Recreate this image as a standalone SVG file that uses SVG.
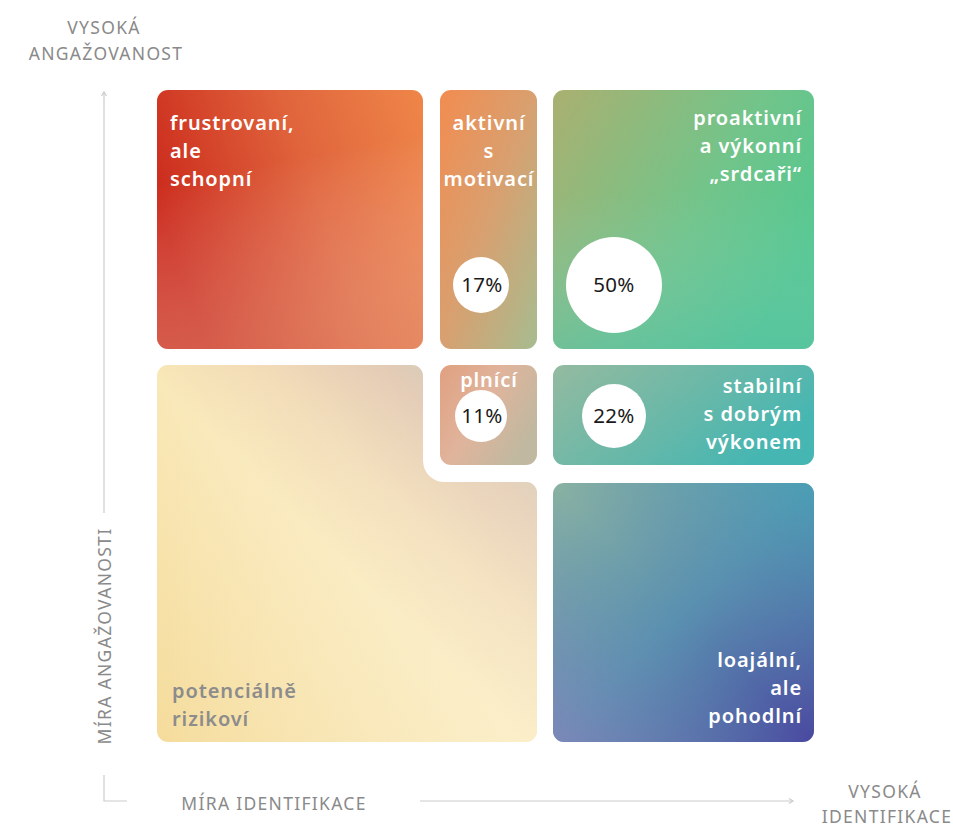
<svg xmlns="http://www.w3.org/2000/svg" width="953" height="827" viewBox="0 0 953 827">
<defs>
<style>
.lbl{font-family:"Noto Sans","Open Sans",sans-serif;font-size:20px;font-weight:600;fill:#ffffff;letter-spacing:0.9px}
.lblg{font-family:"Noto Sans","Open Sans",sans-serif;font-size:20px;font-weight:600;fill:#8c8c8c;letter-spacing:0.9px}
.pct{font-family:"Noto Sans","Open Sans",sans-serif;font-size:20.5px;fill:#1a1a1a;letter-spacing:0.3px}
.ax{font-family:"Noto Sans","Open Sans",sans-serif;font-size:17.5px;fill:#8a8a8a;letter-spacing:1.3px}
.axl{fill:none;stroke:#cccccc;stroke-width:1.2}
</style>
<linearGradient id="gFr" x1="0" y1="0.45" x2="1" y2="0.1"><stop offset="0" stop-color="#cb2a1c"/><stop offset="0.55" stop-color="#e0643c"/><stop offset="1" stop-color="#ee8448"/></linearGradient>
<linearGradient id="gFrO" x1="0" y1="0" x2="0.2" y2="1"><stop offset="0.35" stop-color="#ffffff" stop-opacity="0"/><stop offset="1" stop-color="#e8b8a0" stop-opacity="0.35"/></linearGradient>
<linearGradient id="gAk" x1="0" y1="0" x2="1" y2="1"><stop offset="0" stop-color="#f28c50"/><stop offset="0.5" stop-color="#d8a070"/><stop offset="1" stop-color="#a6bc90"/></linearGradient>
<linearGradient id="gPr" x1="0" y1="0" x2="1" y2="0.6"><stop offset="0" stop-color="#aab070"/><stop offset="0.6" stop-color="#72c48a"/><stop offset="1" stop-color="#52c890"/></linearGradient>
<linearGradient id="gPrO" x1="0" y1="0" x2="0" y2="1"><stop offset="0.4" stop-color="#9ed0c0" stop-opacity="0"/><stop offset="1" stop-color="#5cc0b0" stop-opacity="0.45"/></linearGradient>
<linearGradient id="gPl" x1="0" y1="0" x2="1" y2="0.6"><stop offset="0" stop-color="#e0a080"/><stop offset="0.5" stop-color="#e0b49c"/><stop offset="1" stop-color="#c0b8a0"/></linearGradient>
<linearGradient id="gSt" x1="0" y1="0" x2="1" y2="0.5"><stop offset="0" stop-color="#94baa0"/><stop offset="0.55" stop-color="#6ab8a8"/><stop offset="1" stop-color="#46b6b2"/></linearGradient>
<linearGradient id="gLo" x1="0" y1="0" x2="1" y2="1"><stop offset="0" stop-color="#8ab2a2"/><stop offset="0.5" stop-color="#5a90b0"/><stop offset="1" stop-color="#4a48a0"/></linearGradient>
<linearGradient id="gLoO" x1="1" y1="0" x2="0" y2="1"><stop offset="0" stop-color="#40a8b8" stop-opacity="0.6"/><stop offset="0.5" stop-color="#6090b0" stop-opacity="0"/><stop offset="1" stop-color="#8a84bc" stop-opacity="0.7"/></linearGradient>
<linearGradient id="gPo" x1="0" y1="1" x2="1" y2="0"><stop offset="0" stop-color="#f5dc9c"/><stop offset="0.48" stop-color="#f9e8b8"/><stop offset="0.64" stop-color="#f0d8b0"/><stop offset="0.8" stop-color="#dcbea6"/><stop offset="1" stop-color="#a2b6a8"/></linearGradient>
<linearGradient id="gPoO" x1="0" y1="0" x2="1" y2="0"><stop offset="0" stop-color="#ffffff" stop-opacity="0"/><stop offset="1" stop-color="#fffbe8" stop-opacity="0.35"/></linearGradient>
</defs>
<rect width="953" height="827" fill="#ffffff"/>

<g id="axes">
<text class="ax" x="104" y="34" text-anchor="middle">VYSOKÁ</text>
<text class="ax" x="106" y="60" text-anchor="middle">ANGAŽOVANOST</text>
<text class="ax" x="885" y="798" text-anchor="middle">VYSOKÁ</text>
<text class="ax" x="887" y="823" text-anchor="middle">IDENTIFIKACE</text>
<text class="ax" x="274" y="810" text-anchor="middle">MÍRA IDENTIFIKACE</text>
<text class="ax" transform="translate(111,636) rotate(-90)" text-anchor="middle">MÍRA ANGAŽOVANOSTI</text>
</g>

<g id="connectors">
<path class="axl" d="M104 92 V513"/>
<path class="axl" d="M101.5 96 L104 92 L106.5 96"/>
<path class="axl" d="M104 775 V801 H127"/>
<path class="axl" d="M420 801 H793"/>
<path class="axl" d="M789 798.5 L793 801 L789 803.5"/>
</g>

<g id="frustrovani">
<rect x="157" y="90" width="266" height="259" rx="11" fill="url(#gFr)"/>
<rect x="157" y="90" width="266" height="259" rx="11" fill="url(#gFrO)"/>
<text class="lbl" x="170" y="130">frustrovaní,</text>
<text class="lbl" x="170" y="158">ale</text>
<text class="lbl" x="170" y="186">schopní</text>
</g>

<g id="aktivni">
<rect x="440" y="90" width="97" height="259" rx="11" fill="url(#gAk)"/>
<text class="lbl" x="489" y="130" text-anchor="middle">aktivní</text>
<text class="lbl" x="489" y="158" text-anchor="middle">s</text>
<text class="lbl" x="489" y="186" text-anchor="middle">motivací</text>
<circle cx="481" cy="285" r="28" fill="#ffffff"/>
<text class="pct" x="482" y="292" text-anchor="middle">17%</text>
</g>

<g id="proaktivni">
<rect x="553" y="90" width="261" height="259" rx="11" fill="url(#gPr)"/>
<rect x="553" y="90" width="261" height="259" rx="11" fill="url(#gPrO)"/>
<text class="lbl" x="802" y="125" text-anchor="end">proaktivní</text>
<text class="lbl" x="802" y="153" text-anchor="end">a výkonní</text>
<text class="lbl" x="802" y="181" text-anchor="end">„srdcaři“</text>
<circle cx="614" cy="285" r="48" fill="#ffffff"/>
<text class="pct" x="614" y="292" text-anchor="middle">50%</text>
</g>

<g id="potencialne">
<path d="M168 365 H412 A11 11 0 0 1 423 376 V461 A21 21 0 0 0 444 482 H526 A11 11 0 0 1 537 493 V731 A11 11 0 0 1 526 742 H168 A11 11 0 0 1 157 731 V376 A11 11 0 0 1 168 365 Z" fill="url(#gPo)"/>
<path d="M168 365 H412 A11 11 0 0 1 423 376 V461 A21 21 0 0 0 444 482 H526 A11 11 0 0 1 537 493 V731 A11 11 0 0 1 526 742 H168 A11 11 0 0 1 157 731 V376 A11 11 0 0 1 168 365 Z" fill="url(#gPoO)"/>
<text class="lblg" x="172" y="698">potenciálně</text>
<text class="lblg" x="172" y="726">rizikoví</text>
</g>

<g id="plnici">
<rect x="440" y="365" width="97" height="100" rx="11" fill="url(#gPl)"/>
<text class="lbl" x="489" y="387" text-anchor="middle">plnící</text>
<circle cx="481" cy="416" r="26" fill="#ffffff"/>
<text class="pct" x="482" y="423" text-anchor="middle">11%</text>
</g>

<g id="stabilni">
<rect x="553" y="365" width="261" height="100" rx="11" fill="url(#gSt)"/>
<text class="lbl" x="802" y="393" text-anchor="end">stabilní</text>
<text class="lbl" x="802" y="421" text-anchor="end">s dobrým</text>
<text class="lbl" x="802" y="449" text-anchor="end">výkonem</text>
<circle cx="614" cy="416" r="32" fill="#ffffff"/>
<text class="pct" x="614" y="423" text-anchor="middle">22%</text>
</g>

<g id="loajalni">
<rect x="553" y="483" width="261" height="259" rx="11" fill="url(#gLo)"/>
<rect x="553" y="483" width="261" height="259" rx="11" fill="url(#gLoO)"/>
<text class="lbl" x="802" y="667" text-anchor="end">loajální,</text>
<text class="lbl" x="802" y="695" text-anchor="end">ale</text>
<text class="lbl" x="802" y="723" text-anchor="end">pohodlní</text>
</g>
</svg>
